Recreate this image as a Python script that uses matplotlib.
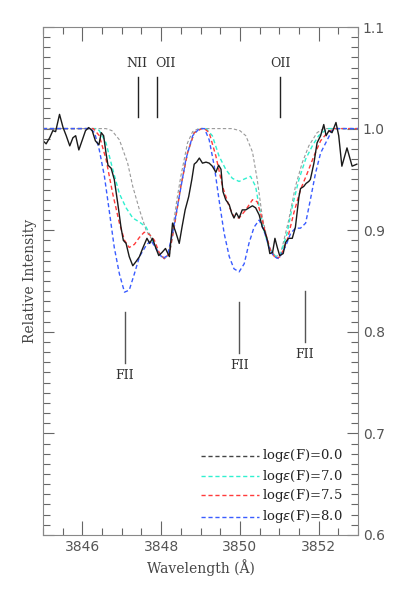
import numpy as np
import matplotlib
matplotlib.use('Agg')
import matplotlib.pyplot as plt
from matplotlib.ticker import MultipleLocator

# observed spectrum
obs_wl = [3845.00, 3845.08, 3845.17, 3845.25, 3845.32, 3845.42, 3845.51, 3845.59, 3845.68, 3845.76,
          3845.83, 3845.91, 3846.00, 3846.08, 3846.16, 3846.25, 3846.33, 3846.42, 3846.48, 3846.54,
          3846.60, 3846.65, 3846.73, 3846.81, 3846.90, 3846.98, 3847.04, 3847.11, 3847.19, 3847.28,
          3847.36, 3847.45, 3847.53, 3847.64, 3847.71, 3847.78, 3847.86, 3847.94, 3848.02, 3848.11,
          3848.21, 3848.29, 3848.38, 3848.46, 3848.53, 3848.61, 3848.70, 3848.78, 3848.84, 3848.90,
          3848.97, 3849.05, 3849.14, 3849.22, 3849.30, 3849.39, 3849.46, 3849.52, 3849.57, 3849.64,
          3849.73, 3849.79, 3849.85, 3849.91, 3849.98, 3850.06, 3850.15, 3850.23, 3850.32, 3850.40,
          3850.49, 3850.57, 3850.63, 3850.70, 3850.76, 3850.83, 3850.89, 3850.95, 3851.01, 3851.10,
          3851.16, 3851.24, 3851.33, 3851.41, 3851.50, 3851.54, 3851.62, 3851.68, 3851.75, 3851.79,
          3851.88, 3851.96, 3852.05, 3852.13, 3852.19, 3852.26, 3852.34, 3852.44, 3852.51, 3852.59,
          3852.72, 3852.85, 3852.97]
obs_flux = [0.988, 0.985, 0.991, 0.998, 0.997, 1.014, 1.001, 0.993, 0.983, 0.991,
            0.993, 0.979, 0.989, 0.998, 1.001, 0.998, 0.988, 0.984, 0.996, 0.993,
            0.976, 0.964, 0.961, 0.950, 0.926, 0.903, 0.890, 0.887, 0.874, 0.865,
            0.869, 0.874, 0.882, 0.892, 0.887, 0.892, 0.883, 0.875, 0.878, 0.882,
            0.874, 0.907, 0.897, 0.887, 0.903, 0.920, 0.933, 0.950, 0.965, 0.967,
            0.971, 0.966, 0.967, 0.966, 0.963, 0.957, 0.964, 0.960, 0.938, 0.930,
            0.925, 0.917, 0.912, 0.917, 0.912, 0.920, 0.920, 0.922, 0.924, 0.922,
            0.915, 0.903, 0.899, 0.890, 0.877, 0.878, 0.892, 0.883, 0.875, 0.877,
            0.888, 0.892, 0.892, 0.903, 0.933, 0.941, 0.943, 0.946, 0.948, 0.950,
            0.966, 0.986, 0.993, 1.004, 0.993, 0.998, 0.996, 1.006, 0.993, 0.963,
            0.981, 0.963, 0.965]

# synthetic spectra, logeps(F) = 0.0, 7.0, 7.5, 8.0
wl_00 = [3845.00, 3846.60, 3846.75, 3846.94, 3847.15, 3847.28, 3847.45, 3847.62, 3847.78, 3847.95,
         3848.08, 3848.20, 3848.29, 3848.40, 3848.50, 3848.67, 3848.80, 3848.95, 3849.80, 3850.00,
         3850.15, 3850.32, 3850.44, 3850.57, 3850.74, 3850.91, 3851.03, 3851.24, 3851.41, 3851.58,
         3851.75, 3851.96, 3852.13, 3853.00]
fl_00 = [1.000, 1.000, 0.998, 0.989, 0.966, 0.943, 0.920, 0.900, 0.890, 0.877,
         0.872, 0.876, 0.900, 0.930, 0.953, 0.986, 0.997, 1.000, 1.000, 0.998,
         0.993, 0.977, 0.950, 0.913, 0.883, 0.874, 0.876, 0.910, 0.943, 0.966,
         0.983, 0.996, 1.000, 1.000]

wl_70 = [3845.00, 3846.35, 3846.43, 3846.60, 3846.77, 3846.94, 3847.11, 3847.28, 3847.45, 3847.62,
         3847.78, 3847.95, 3848.08, 3848.21, 3848.33, 3848.50, 3848.67, 3848.84, 3849.01, 3849.14,
         3849.30, 3849.47, 3849.64, 3849.81, 3849.98, 3850.15, 3850.27, 3850.40, 3850.49, 3850.61,
         3850.74, 3850.91, 3851.03, 3851.20, 3851.33, 3851.50, 3851.67, 3851.84, 3852.00, 3852.22,
         3853.00]
fl_70 = [1.000, 1.000, 0.998, 0.986, 0.960, 0.936, 0.922, 0.912, 0.908, 0.903,
         0.890, 0.877, 0.872, 0.877, 0.903, 0.943, 0.976, 0.996, 1.000, 1.000,
         0.993, 0.973, 0.960, 0.951, 0.948, 0.951, 0.953, 0.943, 0.923, 0.900,
         0.883, 0.874, 0.876, 0.897, 0.923, 0.950, 0.970, 0.983, 0.993, 1.000,
         1.000]

wl_75 = [3845.00, 3846.28, 3846.43, 3846.60, 3846.77, 3846.94, 3847.07, 3847.19, 3847.32, 3847.45,
         3847.57, 3847.70, 3847.83, 3847.95, 3848.08, 3848.21, 3848.33, 3848.50, 3848.67, 3848.84,
         3849.03, 3849.10, 3849.22, 3849.39, 3849.56, 3849.73, 3849.85, 3849.98, 3850.15, 3850.32,
         3850.44, 3850.53, 3850.65, 3850.78, 3850.91, 3851.03, 3851.20, 3851.37, 3851.54, 3851.71,
         3851.88, 3852.05, 3852.22, 3852.38, 3853.00]
fl_75 = [1.000, 1.000, 0.993, 0.970, 0.936, 0.907, 0.890, 0.883, 0.886, 0.893,
         0.898, 0.896, 0.890, 0.878, 0.872, 0.877, 0.903, 0.943, 0.976, 0.996,
         1.000, 1.000, 0.996, 0.973, 0.943, 0.923, 0.913, 0.912, 0.920, 0.930,
         0.928, 0.916, 0.897, 0.880, 0.872, 0.874, 0.890, 0.917, 0.940, 0.956,
         0.973, 0.988, 0.996, 1.000, 1.000]

wl_80 = [3845.00, 3846.20, 3846.31, 3846.43, 3846.56, 3846.69, 3846.81, 3846.94, 3847.07, 3847.19,
         3847.32, 3847.45, 3847.62, 3847.74, 3847.87, 3848.04, 3848.16, 3848.29, 3848.46, 3848.63,
         3848.80, 3848.97, 3849.10, 3849.22, 3849.35, 3849.47, 3849.60, 3849.73, 3849.85, 3849.98,
         3850.11, 3850.23, 3850.36, 3850.49, 3850.61, 3850.74, 3850.86, 3850.99, 3851.16, 3851.29,
         3851.41, 3851.54, 3851.67, 3851.79, 3851.92, 3852.05, 3852.22, 3852.34, 3852.46, 3853.00]
fl_80 = [1.000, 1.000, 0.996, 0.979, 0.953, 0.917, 0.883, 0.857, 0.839, 0.841,
         0.857, 0.874, 0.885, 0.890, 0.882, 0.872, 0.875, 0.897, 0.933, 0.970,
         0.993, 1.000, 1.000, 0.989, 0.963, 0.930, 0.897, 0.874, 0.862, 0.859,
         0.867, 0.887, 0.903, 0.910, 0.900, 0.883, 0.874, 0.872, 0.884, 0.897,
         0.902, 0.902, 0.907, 0.930, 0.956, 0.976, 0.989, 0.998, 1.000, 1.000]

model_labels = ['log$\\epsilon$(F)=0.0', 'log$\\epsilon$(F)=7.0',
                'log$\\epsilon$(F)=7.5', 'log$\\epsilon$(F)=8.0']

# line identifications
top_ids = ['NII', 'OII', 'OII']
top_wl = [3847.40, 3847.89, 3851.02]
bot_wl = [3847.08, 3849.98, 3851.65]
bot_top = [0.819, 0.829, 0.840]

serif = 'DejaVu Serif'
grey = '#666666'

fig = plt.figure(figsize=(3.93, 5.91), dpi=100)
ax = fig.add_axes([0.1094, 0.0948, 0.8016, 0.8595])

ax.plot(wl_00, fl_00, ls=(0, (3, 2)), color='#999999', lw=0.8)
ax.plot(wl_70, fl_70, ls=(0, (3, 2)), color='#30f0d0', lw=1.0)
ax.plot(wl_75, fl_75, ls=(0, (3, 2)), color='#ff3b3b', lw=1.0)
ax.plot(wl_80, fl_80, ls=(0, (3, 2)), color='#3a5cff', lw=1.0)
ax.plot(obs_wl, obs_flux, color='#1a1a1a', lw=1.0)

# marks for the lines
for i in range(len(top_wl)):
    ax.plot([top_wl[i], top_wl[i]], [1.011, 1.051], color='#222222', lw=1.0)
ax.text(3847.38, 1.058, 'NII', family=serif, fontsize=9, ha='center', va='bottom', color='#333333')
ax.text(3848.12, 1.058, 'OII', family=serif, fontsize=9, ha='center', va='bottom', color='#333333')
ax.text(3851.02, 1.058, 'OII', family=serif, fontsize=9, ha='center', va='bottom', color='#333333')
for i in range(len(bot_wl)):
    ax.plot([bot_wl[i], bot_wl[i]], [bot_top[i] - 0.05, bot_top[i]], color='#555555', lw=1.0)
    ax.text(bot_wl[i], bot_top[i] - 0.056, 'FII', family=serif, fontsize=9,
            ha='center', va='top', color='#333333')

# legend by hand
leg_colors = ['#444444', '#30f0d0', '#ff3b3b', '#3a5cff']
leg_y = [0.678, 0.658, 0.639, 0.618]
for i in range(4):
    ax.plot([3849.02, 3850.49], [leg_y[i], leg_y[i]], ls=(0, (3, 2)), color=leg_colors[i], lw=1.0)
    ax.text(3850.55, leg_y[i], model_labels[i], family=serif, fontsize=9.5,
            va='center', ha='left', color='#222222')

ax.set_xlim(3845, 3853)
ax.set_ylim(0.6, 1.1)
ax.xaxis.set_major_locator(MultipleLocator(2))
ax.xaxis.set_minor_locator(MultipleLocator(0.5))
ax.yaxis.set_major_locator(MultipleLocator(0.1))
ax.yaxis.set_minor_locator(MultipleLocator(0.01))
ax.yaxis.tick_right()
ax.tick_params(which='both', direction='in', top=True, bottom=True, left=True, right=True,
               labelleft=False, labelright=True, color=grey, labelcolor='#555555', labelsize=10)
ax.tick_params(which='major', length=10, width=0.8)
ax.tick_params(which='minor', length=5, width=0.8)
ax.tick_params(axis='y', which='major', length=8)
for s in ax.spines.values():
    s.set_color('#888888')
    s.set_linewidth(0.8)

ax.set_xlabel('Wavelength (Å)', family=serif, fontsize=10, color='#444444')
ax.set_ylabel('Relative Intensity', family=serif, fontsize=10, color='#444444')
ax.yaxis.set_label_position('left')

plt.savefig('out.png', dpi=100)
